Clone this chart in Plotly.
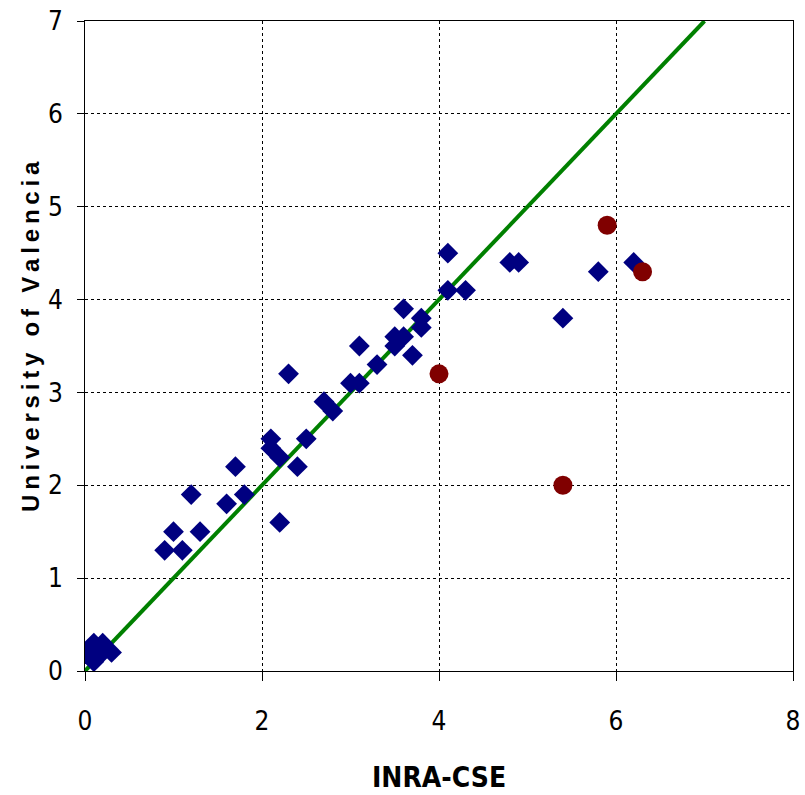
import plotly.graph_objects as go

# Blue diamonds (main series)
blue_x = [0.0, 0.1, 0.2, 0.1, 0.2, 0.3,
          0.9, 1.0, 1.1, 1.2, 1.3, 1.6, 1.7, 1.8,
          2.1, 2.1, 2.2, 2.2, 2.3, 2.4, 2.5, 2.7, 2.8,
          3.0, 3.1, 3.1, 3.3, 3.5, 3.5, 3.6, 3.6, 3.7, 3.8, 3.8,
          4.1, 4.1, 4.3, 4.8, 4.9, 5.4, 5.8, 6.2]
blue_y = [0.2, 0.3, 0.3, 0.1, 0.2, 0.2,
          1.3, 1.5, 1.3, 1.9, 1.5, 1.8, 2.2, 1.9,
          2.5, 2.4, 2.3, 1.6, 3.2, 2.2, 2.5, 2.9, 2.8,
          3.1, 3.1, 3.5, 3.3, 3.5, 3.6, 3.6, 3.9, 3.4, 3.7, 3.8,
          4.5, 4.1, 4.1, 4.4, 4.4, 3.8, 4.3, 4.4]

# Red circles (outliers)
red_x = [4.0, 5.4, 5.9, 6.3]
red_y = [3.2, 2.0, 4.8, 4.3]

# 1:1 line
line_x = [0, 7]
line_y = [0, 7]

x_ticks = [0, 2, 4, 6, 8]
y_ticks = [0, 1, 2, 3, 4, 5, 6, 7]

x_title = "INRA-CSE"
y_title = "University of Valencia"

fig = go.Figure()
fig.add_trace(go.Scatter(x=line_x, y=line_y, mode="lines",
                         line=dict(color="#008000", width=4), showlegend=False))
fig.add_trace(go.Scatter(x=blue_x, y=blue_y, mode="markers",
                         marker=dict(symbol="diamond", color="#000080", size=16,
                                     line=dict(width=0)), showlegend=False))
fig.add_trace(go.Scatter(x=red_x, y=red_y, mode="markers",
                         marker=dict(symbol="circle", color="#800000", size=19,
                                     line=dict(width=0)), showlegend=False))

tickfont = dict(family="Liberation Sans Narrow, Arial Narrow, DejaVu Sans Condensed, sans-serif",
                size=26, color="black")

fig.update_xaxes(range=[0, 8], tickvals=x_ticks, ticks="outside", ticklen=9,
                 tickcolor="black", showline=True, linecolor="black", linewidth=1,
                 mirror=True, showgrid=True, gridcolor="black", griddash="dot",
                 gridwidth=1, zeroline=False, tickfont=tickfont, ticklabelstandoff=18,
                 automargin=False)
fig.update_yaxes(range=[0, 7], tickvals=y_ticks, ticks="outside", ticklen=7,
                 tickcolor="black", showline=True, linecolor="black", linewidth=1,
                 mirror=True, showgrid=True, gridcolor="black", griddash="dot",
                 gridwidth=1, zeroline=False, tickfont=tickfont, ticklabelstandoff=9,
                 automargin=False)

fig.add_annotation(text="<b>" + x_title + "</b>", xref="paper", yref="paper",
                   x=0.5, y=-(777 - 671) / 650, xanchor="center", yanchor="middle",
                   showarrow=False,
                   font=dict(family="Liberation Sans Narrow, Arial Narrow, DejaVu Sans Condensed, sans-serif",
                             size=28, color="black"))
spaced_y_title = "\u2009".join(list(y_title))
fig.add_annotation(text="<b>" + spaced_y_title + "</b>", xref="paper", yref="paper",
                   x=(30 - 85) / 708, y=(671 - 337) / 650, xanchor="center",
                   yanchor="middle", textangle=-90, showarrow=False,
                   font=dict(family="Liberation Sans, Arial, sans-serif",
                             size=24, color="black"))

fig.update_layout(width=805, height=795,
                  margin=dict(l=85, r=12, t=21, b=124),
                  paper_bgcolor="white", plot_bgcolor="white")

fig.write_html("out.html")
